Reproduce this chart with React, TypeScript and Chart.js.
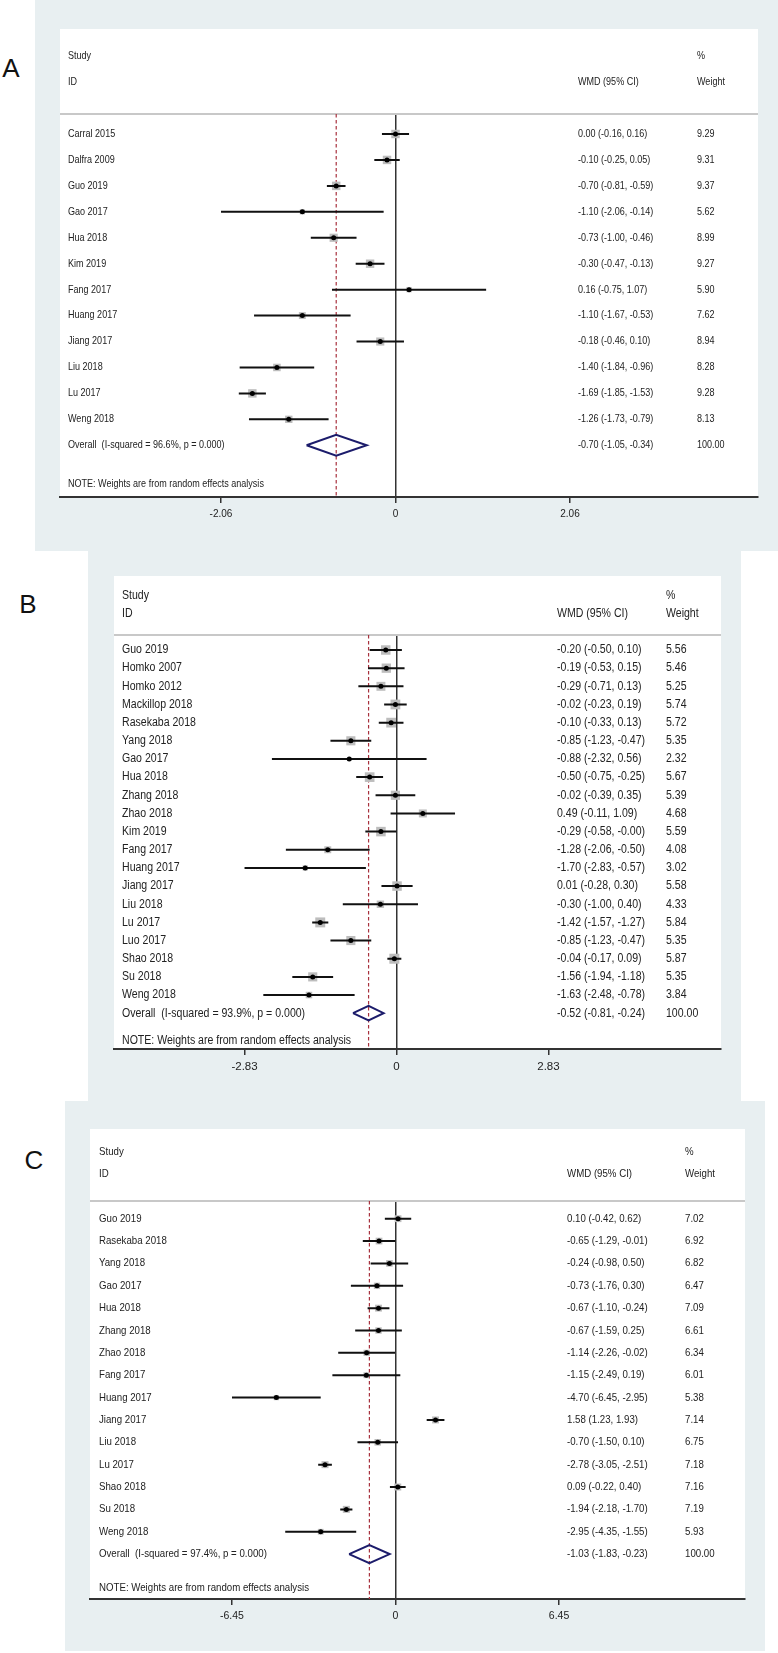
import React, { useEffect, useRef } from "react";
import { Chart, registerables } from "chart.js";

Chart.register(...registerables);
Chart.defaults.font.family = "'Liberation Sans', Arial, sans-serif";

// ---------------- Panel A data ----------------
const studiesA = ["Carral 2015", "Dalfra 2009", "Guo 2019", "Gao 2017", "Hua 2018", "Kim 2019", "Fang 2017", "Huang 2017", "Jiang 2017", "Liu 2018", "Lu 2017", "Weng 2018"];
const estA = [0.0, -0.1, -0.7, -1.1, -0.73, -0.3, 0.16, -1.1, -0.18, -1.4, -1.69, -1.26];
const lowA = [-0.16, -0.25, -0.81, -2.06, -1.0, -0.47, -0.75, -1.67, -0.46, -1.84, -1.85, -1.73];
const highA = [0.16, 0.05, -0.59, -0.14, -0.46, -0.13, 1.07, -0.53, 0.1, -0.96, -1.53, -0.79];
const weightA = [9.29, 9.31, 9.37, 5.62, 8.99, 9.27, 5.9, 7.62, 8.94, 8.28, 9.28, 8.13];
const overallA = [-0.7, -1.05, -0.34];
const i2A = "96.6%";
const tickA = 2.06;

// ---------------- Panel B data ----------------
const studiesB = ["Guo 2019", "Homko 2007", "Homko 2012", "Mackillop 2018", "Rasekaba 2018", "Yang 2018", "Gao 2017", "Hua 2018", "Zhang 2018", "Zhao 2018", "Kim 2019", "Fang 2017", "Huang 2017", "Jiang 2017", "Liu 2018", "Lu 2017", "Luo 2017", "Shao 2018", "Su 2018", "Weng 2018"];
const estB = [-0.2, -0.19, -0.29, -0.02, -0.1, -0.85, -0.88, -0.5, -0.02, 0.49, -0.29, -1.28, -1.7, 0.01, -0.3, -1.42, -0.85, -0.04, -1.56, -1.63];
const lowB = [-0.5, -0.53, -0.71, -0.23, -0.33, -1.23, -2.32, -0.75, -0.39, -0.11, -0.58, -2.06, -2.83, -0.28, -1.0, -1.57, -1.23, -0.17, -1.94, -2.48];
const highB = [0.1, 0.15, 0.13, 0.19, 0.13, -0.47, 0.56, -0.25, 0.35, 1.09, -0.0, -0.5, -0.57, 0.3, 0.4, -1.27, -0.47, 0.09, -1.18, -0.78];
const weightB = [5.56, 5.46, 5.25, 5.74, 5.72, 5.35, 2.32, 5.67, 5.39, 4.68, 5.59, 4.08, 3.02, 5.58, 4.33, 5.84, 5.35, 5.87, 5.35, 3.84];
const overallB = [-0.52, -0.81, -0.24];
const i2B = "93.9%";
const tickB = 2.83;

// ---------------- Panel C data ----------------
const studiesC = ["Guo 2019", "Rasekaba 2018", "Yang 2018", "Gao 2017", "Hua 2018", "Zhang 2018", "Zhao 2018", "Fang 2017", "Huang 2017", "Jiang 2017", "Liu 2018", "Lu 2017", "Shao 2018", "Su 2018", "Weng 2018"];
const estC = [0.1, -0.65, -0.24, -0.73, -0.67, -0.67, -1.14, -1.15, -4.7, 1.58, -0.7, -2.78, 0.09, -1.94, -2.95];
const lowC = [-0.42, -1.29, -0.98, -1.76, -1.1, -1.59, -2.26, -2.49, -6.45, 1.23, -1.5, -3.05, -0.22, -2.18, -4.35];
const highC = [0.62, -0.01, 0.5, 0.3, -0.24, 0.25, -0.02, 0.19, -2.95, 1.93, 0.1, -2.51, 0.4, -1.7, -1.55];
const weightC = [7.02, 6.92, 6.82, 6.47, 7.09, 6.61, 6.34, 6.01, 5.38, 7.14, 6.75, 7.18, 7.16, 7.19, 5.93];
const overallC = [-1.03, -1.83, -0.23];
const i2C = "97.4%";
const tickC = 6.45;

const pValue = "0.000";
const noteText = "NOTE: Weights are from random effects analysis";

const fmt = (v: number) => (Object.is(v, -0) || v < 0 ? "-" : "") + Math.abs(v).toFixed(2);
const ciText = (e: number, l: number, h: number) => `${fmt(e)} (${fmt(l)}, ${fmt(h)})`;

type Box = { x: number; y: number; r: number; b: number };
type Spec = {
  letter: string;
  letterPos: [number, number];
  gray: Box;
  white: Box;
  headerY: number;
  zeroX: number;
  ppu: number;
  rowY0: number;
  rowStep: number;
  cols: [number, number, number];
  font: number;
  tickFont: number;
  sx: number;
  squareMax: number;
  studies: string[];
  est: number[];
  low: number[];
  high: number[];
  weight: number[];
  overall: number[];
  i2: string;
  tick: number;
};

const specs: Spec[] = [
  {
    letter: "A", letterPos: [11, 68],
    gray: { x: 35, y: 0, r: 778, b: 551 },
    white: { x: 60, y: 29, r: 758, b: 497 },
    headerY: 114, zeroX: 395.5, ppu: 84.7, rowY0: 134, rowStep: 25.94,
    cols: [68, 578, 697], font: 10.5, tickFont: 10, sx: 0.86, squareMax: 8.5,
    studies: studiesA, est: estA, low: lowA, high: highA, weight: weightA, overall: overallA, i2: i2A, tick: tickA,
  },
  {
    letter: "B", letterPos: [28, 604],
    gray: { x: 88, y: 551, r: 741, b: 1101 },
    white: { x: 114, y: 576, r: 721, b: 1049 },
    headerY: 635, zeroX: 396.5, ppu: 53.7, rowY0: 650, rowStep: 18.16,
    cols: [122, 557, 666], font: 12, tickFont: 11.5, sx: 0.88, squareMax: 10,
    studies: studiesB, est: estB, low: lowB, high: highB, weight: weightB, overall: overallB, i2: i2B, tick: tickB,
  },
  {
    letter: "C", letterPos: [34, 1160],
    gray: { x: 65, y: 1101, r: 765, b: 1651 },
    white: { x: 90, y: 1129, r: 745, b: 1599 },
    headerY: 1201, zeroX: 395.5, ppu: 25.35, rowY0: 1218.7, rowStep: 22.36,
    cols: [99, 567, 685], font: 11, tickFont: 10.5, sx: 0.88, squareMax: 7,
    studies: studiesC, est: estC, low: lowC, high: highC, weight: weightC, overall: overallC, i2: i2C, tick: tickC,
  },
];

const GRAY = "#e8eff1";
const TEXT = "#222222";

function Panel({ s }: { s: Spec }) {
  const ref = useRef<HTMLCanvasElement | null>(null);
  const w = s.gray.r - s.gray.x;
  const h = s.gray.b - s.gray.y;

  useEffect(() => {
    if (!ref.current) return;
    const n = s.studies.length;
    const xMin = (s.white.x - s.zeroX) / s.ppu;
    const xMax = (s.white.r - s.zeroX) / s.ppu;
    const yMin = (s.headerY - s.rowY0) / s.rowStep;
    const yMax = (s.white.b - s.rowY0) / s.rowStep;
    const wMax = Math.max(...s.weight);

    const ciData: any[] = [];
    s.studies.forEach((_, i) => {
      ciData.push({ x: s.low[i], y: i }, { x: s.high[i], y: i }, { x: null, y: null });
    });
    const [oe, ol, oh] = s.overall;

    const textPlugin = {
      id: "forestText",
      beforeDatasetsDraw(chart: any) {
        const { ctx, chartArea } = chart;
        ctx.save();
        ctx.strokeStyle = "#c8c8c8";
        ctx.lineWidth = 2;
        ctx.beginPath();
        ctx.moveTo(chartArea.left, chartArea.top);
        ctx.lineTo(chartArea.right, chartArea.top);
        ctx.stroke();
        ctx.restore();
      },
      afterDraw(chart: any) {
        const { ctx } = chart;
        const ys = chart.scales.y;
        const cx = s.cols.map((c) => c - s.gray.x);
        ctx.save();
        ctx.fillStyle = TEXT;
        ctx.font = `${s.font}px 'Liberation Sans', Arial, sans-serif`;
        ctx.textBaseline = "middle";
        ctx.textAlign = "left";
        const put = (t: string, x: number, row: number) => {
          ctx.save();
          ctx.translate(x, ys.getPixelForValue(row));
          ctx.scale(s.sx, 1);
          ctx.fillText(t, 0, 0);
          ctx.restore();
        };
        put("Study", cx[0], -3);
        put("ID", cx[0], -2);
        put("%", cx[2], -3);
        put("WMD (95% CI)", cx[1], -2);
        put("Weight", cx[2], -2);
        s.studies.forEach((name, i) => {
          put(name, cx[0], i);
          put(ciText(s.est[i], s.low[i], s.high[i]), cx[1], i);
          put(s.weight[i].toFixed(2), cx[2], i);
        });
        put(`Overall  (I-squared = ${s.i2}, p = ${pValue})`, cx[0], n);
        put(ciText(oe, ol, oh), cx[1], n);
        put("100.00", cx[2], n);
        put(noteText, cx[0], n + 1.5);
        ctx.restore();
      },
    };

    const chart = new Chart(ref.current, {
      type: "scatter",
      data: {
        datasets: [
          {
            label: "overall line",
            data: [{ x: oe, y: yMin }, { x: oe, y: yMax }],
            showLine: true,
            borderColor: "#a8323e",
            borderWidth: 1.2,
            borderDash: [3.5, 2.5],
            pointRadius: 0,
            order: 6,
          },
          {
            label: "weights",
            data: s.est.map((e, i) => ({ x: e, y: i })),
            pointStyle: "rect",
            pointRadius: s.weight.map((wt) => (s.squareMax * wt) / wMax / Math.SQRT2),
            backgroundColor: "#bdbdbd",
            borderWidth: 0,
            order: 4,
          },
          {
            label: "ci",
            data: ciData,
            showLine: true,
            spanGaps: false,
            borderColor: "#111111",
            borderWidth: 2,
            pointRadius: 0,
            order: 3,
          },
          {
            label: "estimates",
            data: s.est.map((e, i) => ({ x: e, y: i })),
            pointStyle: "circle",
            pointRadius: 2.5,
            backgroundColor: "#000000",
            borderWidth: 0,
            order: 2,
          },
          {
            label: "diamond",
            data: [
              { x: ol, y: n },
              { x: oe, y: n - 0.4 },
              { x: oh, y: n },
              { x: oe, y: n + 0.4 },
              { x: ol, y: n },
            ],
            showLine: true,
            borderColor: "#1c1c6b",
            borderWidth: 2,
            borderJoinStyle: "miter",
            pointRadius: 0,
            order: 1,
          },
        ] as any,
      },
      options: {
        animation: false,
        responsive: false,
        events: [],
        layout: {
          padding: {
            left: s.white.x - s.gray.x,
            right: s.gray.r - s.white.r,
            top: s.headerY - s.gray.y,
            bottom: 0,
          },
        },
        plugins: { legend: { display: false }, tooltip: { enabled: false } },
        scales: {
          x: {
            type: "linear",
            min: xMin,
            max: xMax,
            afterFit: (sc: any) => {
              sc.height = s.gray.b - s.white.b;
            },
            afterBuildTicks: (sc: any) => {
              sc.ticks = [{ value: -s.tick }, { value: 0 }, { value: s.tick }];
            },
            ticks: {
              color: TEXT,
              padding: 5,
              maxRotation: 0,
              autoSkip: false,
              font: { size: s.tickFont },
              callback: (v: any) => (v === 0 ? "0" : fmt(Number(v))),
            },
            grid: {
              display: true,
              drawOnChartArea: true,
              drawTicks: true,
              tickLength: 6,
              tickWidth: 1.5,
              tickColor: "#333333",
              lineWidth: 1.5,
              color: (c: any) => (c.tick && c.tick.value === 0 ? "#333333" : "rgba(0,0,0,0)"),
            },
            border: { display: true, color: "#333333", width: 2 },
          },
          y: {
            type: "linear",
            reverse: true,
            min: yMin,
            max: yMax,
            display: false,
          },
        },
      } as any,
      plugins: [textPlugin],
    });
    return () => chart.destroy();
  }, [s]);

  return (
    <>
      <div
        style={{
          position: "absolute",
          left: s.gray.x,
          top: s.gray.y,
          width: w,
          height: h,
          background: GRAY,
        }}
      />
      <div
        style={{
          position: "absolute",
          left: s.white.x,
          top: s.white.y,
          width: s.white.r - s.white.x,
          height: s.white.b - s.white.y,
          background: "#ffffff",
        }}
      />
      <canvas
        ref={ref}
        width={w}
        height={h}
        style={{ position: "absolute", left: s.gray.x, top: s.gray.y, width: w, height: h }}
      />
      <div
        style={{
          position: "absolute",
          left: s.letterPos[0],
          top: s.letterPos[1],
          transform: "translate(-50%, -50%)",
          fontFamily: "'Liberation Sans', Arial, sans-serif",
          fontSize: 26,
          lineHeight: 1,
          color: "#111",
        }}
      >
        {s.letter}
      </div>
    </>
  );
}

export default function App() {
  return (
    <div
      style={{
        position: "absolute",
        left: 0,
        top: 0,
        width: 778,
        height: 1653,
        background: "#ffffff",
        overflow: "hidden",
      }}
    >
      {specs.map((s) => (
        <Panel key={s.letter} s={s} />
      ))}
    </div>
  );
}
